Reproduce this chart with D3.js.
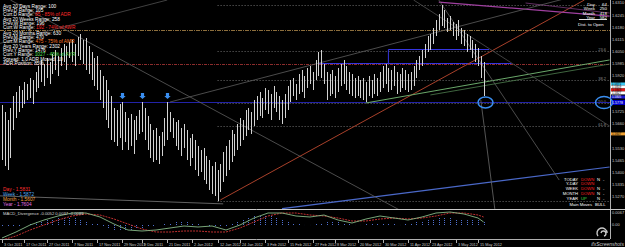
<!DOCTYPE html>
<html>
<head>
<meta charset="utf-8">
<script src="https://cdnjs.cloudflare.com/ajax/libs/d3/7.8.5/d3.min.js"></script>
<style>
body { margin:0; background:#000; }
svg { display:block; }
text { font-family: "Liberation Sans", Arial, sans-serif; }
</style>
</head>
<body>
<script>
// daily bars, high / low
var highs = [1.5762,1.5725,1.5682,1.5746,1.5811,1.5832,1.5864,1.5843,1.5886,1.5875,
 1.5907,1.5896,1.5939,1.5972,1.6004,1.5982,1.6015,1.5993,1.6036,1.6058,
 1.6025,1.6068,1.6090,1.6079,1.6100,1.6111,1.6090,1.6127,1.6143,1.6111,
 1.6122,1.6079,1.6047,1.6015,1.6025,1.5950,1.5918,1.5896,1.5843,1.5811,
 1.5746,1.5735,1.5768,1.5778,1.5725,1.5692,1.5714,1.5682,1.5703,1.5735,
 1.5778,1.5746,1.5703,1.5660,1.5628,1.5639,1.5596,1.5617,1.5692,1.5778,
 1.5725,1.5692,1.5671,1.5682,1.5639,1.5660,1.5628,1.5585,1.5606,1.5574,
 1.5542,1.5521,1.5531,1.5488,1.5467,1.5435,1.5456,1.5413,1.5445,1.5510,
 1.5542,1.5574,1.5628,1.5606,1.5660,1.5692,1.5682,1.5735,1.5746,1.5725,
 1.5789,1.5811,1.5832,1.5800,1.5853,1.5843,1.5821,1.5864,1.5832,1.5811,
 1.5789,1.5821,1.5864,1.5896,1.5907,1.5875,1.5929,1.5950,1.5918,1.5961,
 1.5972,1.5939,1.6004,1.6047,1.6058,1.5982,1.5939,1.5929,1.5950,1.5918,
 1.5961,1.5982,1.6004,1.5972,1.5939,1.5929,1.5907,1.5918,1.5896,1.5907,
 1.5886,1.5918,1.5896,1.5929,1.5907,1.5939,1.5972,1.5982,1.5961,1.5950,
 1.5972,1.5939,1.5929,1.5961,1.5950,1.5929,1.5939,1.5972,1.6004,1.6025,
 1.6058,1.6090,1.6133,1.6143,1.6176,1.6219,1.6251,1.6299,1.6272,1.6229,
 1.6240,1.6208,1.6197,1.6219,1.6176,1.6165,1.6143,1.6133,1.6111,1.6090,
 1.6068,1.6025,1.5993];
var lows = [1.5467,1.5435,1.5413,1.5478,1.5628,1.5692,1.5725,1.5746,1.5768,1.5789,
 1.5800,1.5768,1.5832,1.5853,1.5886,1.5864,1.5907,1.5875,1.5929,1.5950,
 1.5918,1.5972,1.5993,1.5950,1.6015,1.5993,1.5972,1.6025,1.6004,1.5982,
 1.5950,1.5929,1.5896,1.5864,1.5843,1.5789,1.5746,1.5682,1.5639,1.5574,
 1.5564,1.5542,1.5585,1.5521,1.5564,1.5521,1.5542,1.5499,1.5574,1.5606,
 1.5617,1.5574,1.5521,1.5478,1.5456,1.5467,1.5445,1.5488,1.5542,1.5574,
 1.5617,1.5585,1.5542,1.5521,1.5488,1.5531,1.5467,1.5435,1.5478,1.5413,
 1.5381,1.5402,1.5359,1.5338,1.5306,1.5284,1.5274,1.5247,1.5295,1.5349,
 1.5381,1.5413,1.5456,1.5488,1.5521,1.5542,1.5574,1.5596,1.5628,1.5606,
 1.5649,1.5682,1.5703,1.5692,1.5735,1.5714,1.5682,1.5746,1.5725,1.5682,
 1.5660,1.5692,1.5735,1.5778,1.5811,1.5789,1.5821,1.5832,1.5800,1.5853,
 1.5875,1.5843,1.5896,1.5918,1.5907,1.5875,1.5789,1.5811,1.5821,1.5800,
 1.5832,1.5864,1.5875,1.5843,1.5821,1.5811,1.5800,1.5811,1.5800,1.5789,
 1.5778,1.5811,1.5800,1.5821,1.5811,1.5832,1.5853,1.5875,1.5832,1.5843,
 1.5864,1.5821,1.5832,1.5853,1.5843,1.5832,1.5843,1.5864,1.5907,1.5950,
 1.5972,1.6015,1.6047,1.6058,1.6090,1.6133,1.6165,1.6186,1.6176,1.6154,
 1.6165,1.6133,1.6111,1.6133,1.6090,1.6079,1.6047,1.6058,1.6015,1.5993,
 1.5972,1.5907,1.5811];

var dateBars = [0,8,16,25,34,43,50,59,68,77,85,94,102,111,119,127,136,145,153,162,170];
var dateLabels = ["3 Oct 2011","17 Oct 2011","27 Oct 2011","7 Nov 2011","17 Nov 2011","29 Nov 2011",
 "9 Dec 2011","21 Dec 2011","2 Jan 2012","12 Jan 2012","24 Jan 2012","3 Feb 2012","15 Feb 2012",
 "27 Feb 2012","8 Mar 2012","20 Mar 2012","30 Mar 2012","11 Apr 2012","23 Apr 2012","3 May 2012","15 May 2012"];
var priceTicks = [1.6310,1.6245,1.6180,1.6115,1.6050,1.5985,1.5920,1.5855,1.5790,1.5725,
 1.5660,1.5595,1.5530,1.5465,1.5400,1.5335,1.5270];

var arrowBars = [43, 50, 59];
var pivotLevels = [1.6165, 1.5982];
var supportLevel = 1.5778;
var boxTop = 1.6063, boxBottom = 1.5988;
var boxStartBars = [113, 138];
var fibLowBar = 77, fibLow = 1.5247, fibHigh = 1.6299;
var fibLevels = [0, 23.6, 38.2, 50, 61.8, 100];
// bar1, price1, bar2, price2
var trendLines = [
 [78, 1.5252, 208, 1.6326],
 [130, 1.5773, 217, 1.6004],
 [153, 1.5816, 217, 1.5982],
 [100, 1.5205, 217, 1.5429],
 [156, 1.6315, 217, 1.6240],
 [187, 1.6310, 217, 1.6256],
 [3, 1.6326, 142, 1.5198],
 [60, 1.5778, 217, 1.6396],
 [-1, 1.6092, 59, 1.6326],
 [156, 1.6326, 199, 1.5359],
 [171, 1.5789, 176, 1.5204],
 [147, 1.6326, 217, 1.5649],
 [-1, 1.5274, 79, 1.5231]
];
var openLevels = [1.5875, 1.5859, 1.5843, 1.5827, 1.5805, 1.5607];

var macdBars = [0,5,10,15,20,25,30,35,40,45,50,55,60,65,70,75,80,85,90,95,100,105,110,115,120,125,130,135,140,145,150,155,160,165,170,172];
var macdMain = [-0.0065,-0.0035,0.0000,0.0025,0.0045,0.0060,0.0060,0.0040,0.0005,-0.0025,-0.0030,-0.0025,
 -0.0015,-0.0005,-0.0010,-0.0005,-0.0025,0.0000,0.0035,0.0060,0.0060,0.0045,0.0040,0.0050,
 0.0025,0.0010,0.0030,0.0045,0.0035,0.0025,0.0040,0.0060,0.0065,0.0055,0.0035,0.0015];
var macdSignal = [-0.0075,-0.0055,-0.0025,0.0000,0.0025,0.0045,0.0055,0.0050,0.0030,0.0005,-0.0020,-0.0035,
 -0.0035,-0.0030,-0.0030,-0.0035,-0.0035,-0.0015,0.0015,0.0045,0.0060,0.0060,0.0050,0.0045,
 0.0035,0.0020,0.0020,0.0030,0.0035,0.0030,0.0035,0.0045,0.0060,0.0060,0.0050,0.0040];
// one value every 2 bars
var macdHist = [-0.0010,-0.0010,-0.0005,-0.0005,0.0000,0.0005,0.0015,0.0020,0.0025,0.0030,
 0.0035,0.0040,0.0040,0.0035,0.0030,0.0020,0.0010,0.0005,-0.0005,-0.0015,
 -0.0025,-0.0030,-0.0030,-0.0025,-0.0020,-0.0015,-0.0010,-0.0005,0.0000,0.0005,
 0.0010,0.0015,0.0015,0.0015,0.0010,0.0005,0.0000,-0.0005,-0.0010,-0.0010,
 -0.0005,0.0005,0.0015,0.0025,0.0035,0.0045,0.0050,0.0050,0.0045,0.0040,
 0.0030,0.0020,0.0010,0.0005,0.0000,0.0000,0.0005,0.0010,0.0015,0.0020,
 0.0015,0.0010,0.0005,0.0000,0.0000,0.0005,0.0005,0.0010,0.0010,0.0005,
 0.0005,0.0000,0.0005,0.0010,0.0015,0.0020,0.0025,0.0030,0.0035,0.0035,
 0.0035,0.0030,0.0030,0.0030,0.0030,0.0025,0.0020];

function init(){

    var w = 625;
    var h = 247;
    var right = 610;

    var svg = d3.select("body")
                .append("svg")
                .attr("width", w)
                .attr("height", h);

    svg.append("rect").attr("width", w).attr("height", h).attr("fill", "#000");

    var defs = svg.append("defs");
    defs.append("clipPath").attr("id", "cmain")
        .append("rect").attr("x", 0).attr("y", 0).attr("width", right).attr("height", 209);
    defs.append("clipPath").attr("id", "cmacd")
        .append("rect").attr("x", 0).attr("y", 210).attr("width", right).attr("height", 29);

    var x = d3.scaleLinear().domain([0, 172]).range([2, 483.6]);
    var y = d3.scaleLinear().domain([1.5205, 1.6310]).range([208.7, 3]);
    var ym = d3.scaleLinear().domain([-0.007, 0.007]).range([239, 211]);

    function px(i){ return Math.round(x(i)) + 0.5; }

    var main = svg.append("g").attr("clip-path", "url(#cmain)");

    // fibo retracement
    var fibStart = x(fibLowBar);
    fibLevels.forEach(function(l){
        var p = fibHigh - (fibHigh - fibLow) * l / 100;
        var yy = Math.round(y(p)) + 0.5;
        main.append("line").attr("x1", fibStart).attr("x2", right).attr("y1", yy).attr("y2", yy)
            .style("stroke", "#6e6e6e").style("stroke-width", 1).style("stroke-dasharray", "1,2");
        if (l > 0 && l < 100) {
            main.append("text").attr("x", 606).attr("y", yy - 1).attr("text-anchor", "end")
                .style("font-size", "4px").style("fill", "#8a8a8a").text(l.toFixed(1));
        }
    });

    // pivots
    var pivStyles = [["#8c6e3c", "4,1,1,1"], ["#8c2c2c", "3,1,1,1"]];
    pivotLevels.forEach(function(p, k){
        var yy = Math.round(y(p)) + 0.5;
        main.append("line").attr("x1", 0).attr("x2", right).attr("y1", yy).attr("y2", yy)
            .style("stroke", pivStyles[k][0]).style("stroke-dasharray", pivStyles[k][1]);
    });

    var sy = Math.round(y(supportLevel)) + 0.5;
    main.append("line").attr("x1", 0).attr("x2", right).attr("y1", sy).attr("y2", sy)
        .style("stroke", "#2222a8").style("stroke-width", 1.2);

    // blue box
    var bt = Math.round(y(boxTop)) + 0.5, bb = Math.round(y(boxBottom)) + 0.5;
    main.append("path")
        .attr("d", "M" + x(boxStartBars[1]) + "," + bb + "V" + bt + "H" + x(174))
        .style("fill", "none").style("stroke", "#3535e0");
    main.append("line").attr("x1", x(boxStartBars[0])).attr("x2", x(182)).attr("y1", bb).attr("y2", bb)
        .style("stroke", "#3535e0");

    // trend lines
    var tlStyles = [
        ["#a8402a", 1], ["#6aa86a", 1], ["#4f7f4f", 0.8], ["#4a68c8", 1.2],
        ["#a040a0", 1.2], ["#7a3a7a", 0.8], ["#5e5e5e", 0.8], ["#5e5e5e", 0.8],
        ["#505050", 0.8], ["#5e5e5e", 0.8], ["#6a6a6a", 0.8], ["#505050", 0.8], ["#7a7a7a", 0.8]
    ];
    trendLines.forEach(function(t, k){
        main.append("line")
            .attr("x1", x(t[0])).attr("y1", y(t[1]))
            .attr("x2", x(t[2])).attr("y2", y(t[3]))
            .style("stroke", tlStyles[k][0]).style("stroke-width", tlStyles[k][1]);
    });

    // bars
    main.selectAll("line.bar")
        .data(highs)
        .enter()
        .append("line")
        .attr("class", "bar")
        .attr("x1", function(d, i){ return px(i); })
        .attr("x2", function(d, i){ return px(i); })
        .attr("y1", function(d){ return Math.round(y(d)); })
        .attr("y2", function(d, i){ return Math.round(y(lows[i])); })
        .style("stroke", "#d2d2d2")
        .style("shape-rendering", "crispEdges");

    // arrows
    arrowBars.forEach(function(i){
        var ax = px(i), ay = y(highs[i]) - 3;
        main.append("path")
            .attr("d", "M" + (ax-1.6) + "," + (ay-6) + "H" + (ax+1.6) + "V" + (ay-3) + "H" + (ax+3.2) +
                  "L" + ax + "," + ay + "L" + (ax-3.2) + "," + (ay-3) + "H" + (ax-1.6) + "Z")
            .style("fill", "#3a8ef0");
    });

    // ellipses
    main.append("ellipse").attr("cx", px(172) + 1).attr("cy", sy).attr("rx", 7.5).attr("ry", 5.5)
        .style("fill", "none").style("stroke", "#3a8ef0").style("stroke-width", 1.5);

    // axes frame
    svg.append("line").attr("x1", right + 0.5).attr("x2", right + 0.5).attr("y1", 0).attr("y2", 239)
        .style("stroke", "#b0b0b0");
    svg.append("line").attr("x1", 0).attr("x2", w).attr("y1", 209.5).attr("y2", 209.5)
        .style("stroke", "#c8c8c8");
    svg.append("line").attr("x1", 0).attr("x2", right).attr("y1", 239.5).attr("y2", 239.5)
        .style("stroke", "#b0b0b0");

    // price labels, hidden where a marker covers them
    var markerPrices = openLevels.concat([supportLevel]);
    var shown = priceTicks.filter(function(p){
        return !markerPrices.some(function(m){ return Math.abs(y(m) - y(p)) < 4; });
    });
    svg.selectAll("text.pt")
        .data(shown)
        .enter()
        .append("text")
        .attr("class", "pt")
        .attr("x", 612)
        .attr("y", function(d){ return y(d) + 1.4; })
        .style("font-size", "4px")
        .style("fill", "#c8c8c8")
        .text(function(d){ return d.toFixed(4); });

    // price markers on the axis
    var mkColors = ["#3cc8f0", "#ffffff", "#e01818", "#ffffff", "#1a1ad0", "#f0a030"];
    openLevels.forEach(function(p, k){
        var yy = y(p);
        svg.append("rect").attr("x", 611).attr("y", yy - 1.5).attr("width", 14).attr("height", 3)
            .style("fill", mkColors[k]);
        svg.append("text").attr("x", 612).attr("y", yy + 1.1).style("font-size", "3px")
            .style("fill", k == 4 ? "#fff" : "#000").text(p.toFixed(4));
    });
    svg.append("rect").attr("x", 611).attr("y", sy - 2.5).attr("width", 14).attr("height", 5)
        .style("fill", "#0000c8");
    svg.append("text").attr("x", 612).attr("y", sy + 1.4).style("font-size", "3.6px")
        .style("fill", "#fff").text(supportLevel.toFixed(4));
    svg.append("ellipse").attr("cx", 604).attr("cy", sy).attr("rx", 8.5).attr("ry", 6)
        .style("fill", "none").style("stroke", "#3a8ef0").style("stroke-width", 1.5);

    // MACD
    var mg = svg.append("g").attr("clip-path", "url(#cmacd)");
    mg.selectAll("line.h")
        .data(macdHist)
        .enter()
        .append("line")
        .attr("x1", function(d, k){ return px(k * 2); })
        .attr("x2", function(d, k){ return px(k * 2); })
        .attr("y1", ym(0))
        .attr("y2", function(d){ return ym(d); })
        .style("stroke", "#5070d0")
        .style("stroke-dasharray", "1,1");

    var mline = d3.line()
        .x(function(d, k){ return x(macdBars[k]); })
        .y(function(d){ return ym(d); });
    mg.append("path").attr("d", mline(macdSignal))
        .style("fill", "none").style("stroke", "#c03030").style("stroke-width", 1).style("stroke-dasharray", "2,1");
    mg.append("path").attr("d", mline(macdMain))
        .style("fill", "none").style("stroke", "#86b886").style("stroke-width", 0.9);

    svg.append("text").attr("x", 612).attr("y", 214).style("font-size", "4px").style("fill", "#c8c8c8").text("0.0067");
    svg.append("text").attr("x", 612).attr("y", ym(0) + 1.4).style("font-size", "4px").style("fill", "#c8c8c8").text("0.00");
    svg.append("text").attr("x", 3).attr("y", 214.5).style("font-size", "4.2px").style("fill", "#d8d8d8")
        .text("MACD_Divergence -0.0052 0.0037 -0.0089");

    // date axis
    dateBars.forEach(function(b, k){
        var tx = px(b);
        svg.append("line").attr("x1", tx).attr("x2", tx).attr("y1", 240).attr("y2", 243)
            .style("stroke", "#b0b0b0");
        svg.append("text").attr("x", tx + 1.5).attr("y", 245.5).style("font-size", "3.8px")
            .style("fill", "#c8c8c8").text(dateLabels[k]);
    });

    // info texts
    function info(xx, yy, parts, anchor, size){
        var t = svg.append("text").attr("x", xx).attr("y", yy).style("font-size", (size || 4.8) + "px")
            .attr("text-anchor", anchor || "start");
        parts.forEach(function(p){
            t.append("tspan").style("fill", p[1] || "#ffffff").text(p[0]);
        });
    }
    var red = "#ff2a2a";
    info(3, 7.5, [["Avg 20 Days Range: 100"]]);
    info(3, 11.5, [["Prev.D Range: 105"]]);
    info(3, 15.5, [["Curr.D Range: "], ["85 - 85% of ADR", red]]);
    info(3, 20.5, [["Avg 20 Weeks Range: 258"]]);
    info(3, 24.5, [["Prev.W Range: 196"]]);
    info(3, 28.5, [["Curr.W Range: "], ["192 - 74% of AWR", red]]);
    info(3, 34.5, [["Avg 20 Months Range: 630"]]);
    info(3, 38.5, [["Prev.M Range: 470"]]);
    info(3, 42.5, [["Curr.M Range: "], ["475 - 75% of AMR", "#ff7a2a"]]);
    info(3, 47.5, [["Avg 20 Years Range: 2302"]]);
    info(3, 51.5, [["Prev.Y Range: 1476"]]);
    info(3, 55.5, [["Curr.Y Range: "], ["1027 - 45% of AYR", "#5ae05a"]]);
    info(3, 60.5, [["Spread: 1.0 ADR Moved: 10"]]);
    info(3, 64.5, [["ADR Position: 85%"]]);

    var rows = [["Day", "64"], ["Week", "250"], ["Month", "418"], ["Year", "582"]];
    rows.forEach(function(r, k){
        info(595, 5.5 + k * 4.5, [[r[0]]], "end", 4.4);
        info(607, 5.5 + k * 4.5, [[r[1]]], "end", 4.4);
    });
    svg.append("line").attr("x1", 579).attr("x2", 607).attr("y1", 19.5).attr("y2", 19.5).style("stroke", "#ddd");
    info(578, 25.5, [["Dist. to Open"]], "start", 4.4);

    info(3, 190.5, [["Day - 1.5831", "#ff3030"]]);
    info(3, 195.5, [["Week - 1.5872", "#50a8f0"]]);
    info(3, 200.5, [["Month - 1.5607", "#f0a040"]]);
    info(3, 206, [["Year - 1.7604", "#e070e0"]]);

    var trend = [["TODAY", "DOWN"], ["Y-DAY", "DOWN"], ["WEEK", "DOWN"], ["MONTH", "DOWN"], ["YEAR", "UP"]];
    trend.forEach(function(r, k){
        var yy = 180.5 + k * 4.8;
        info(578, yy, [[r[0]]], "end", 4.2);
        info(581, yy, [[r[1], r[1] == "UP" ? "#40d040" : "#ff2020"]], "start", 4.2);
        if (k != 1) { info(597, yy, [["N"]], "start", 4.2); info(603, yy, [["-"]], "start", 4.2); }
    });
    info(592, 206, [["Main Moves"]], "end", 4.2);
    info(595, 206, [["BULL"]], "start", 4.2);

    // watermark
    var wm = svg.append("g").style("fill", "none").style("stroke", "#c8c8c8").style("stroke-width", 1.4);
    wm.append("path").attr("d", "M598,236 A5,5 0 1 1 607,233");
    wm.append("path").attr("d", "M601,233 A2.5,2.5 0 1 1 604,236");
    svg.append("text").attr("x", 624).attr("y", 245.5).attr("text-anchor", "end")
        .style("font-size", "5px").style("fill", "#c8c8c8").style("font-style", "italic").text("ifxScreenshots");
}

window.onload = init;
</script>
</body>
</html>
